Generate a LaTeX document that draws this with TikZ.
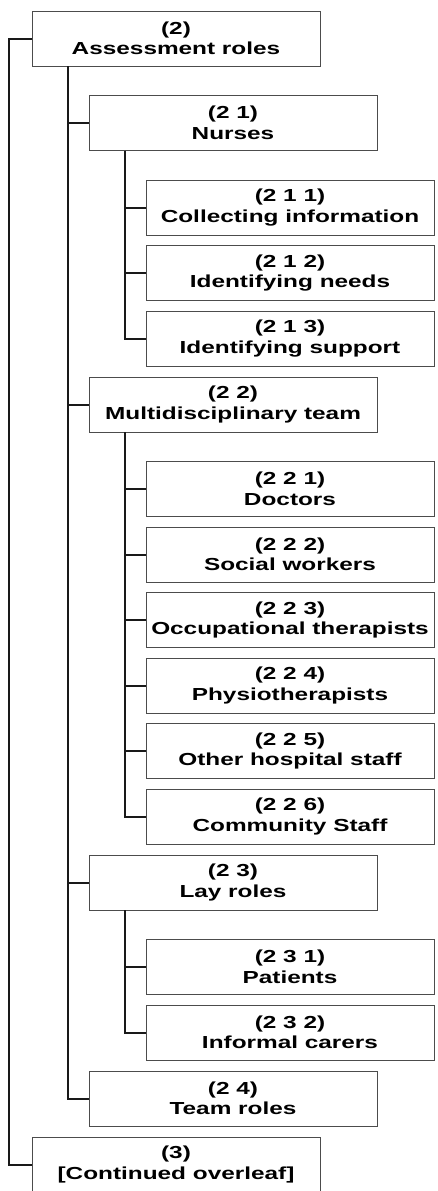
\documentclass[tikz,border=0pt]{standalone}
\usepackage{fontspec}
\newfontfamily\boxfont{Liberation Sans}[FakeStretch=1.40]
\usetikzlibrary{positioning, calc}

\begin{document}
\begin{tikzpicture}[
    x = 1pt, y = 1pt,
    line width = 2pt,
    black!90,
    role/.style={draw, line width = 0.8pt, black!70, text = black,
        minimum width = 288pt, minimum height = 55pt,
        align = center, inner sep = 0pt, outer sep = 0pt,
        font = \boxfont\bfseries\fontsize{17.4}{20.5}\selectfont}
    ]

    % Determines the boundries
    \path [use as bounding box] (0,0) rectangle (438,-1191);

    \def\gap{10.5pt}
    \def\drop{29.5pt}
    \def\back{11pt}
    \def\shift{57pt}
    \def\stem{36}

    % Top level
    \node (A2) [role, anchor = north west] at (32,-11) {(2)\\Assessment roles};

    % Nurses and their tasks
    \node (A21) [role, below right = \drop and \shift of A2.south west] {(2 1)\\Nurses};
    \node (A211) [role, below right = \drop and \shift of A21.south west] {(2 1 1)\\Collecting information};
    \foreach \n/\l/\t [remember=\n as \p (initially 211)] in
        {212/2 1 2/Identifying needs, 213/2 1 3/Identifying support}{
        \node (A\n) [role, below = \gap of A\p] {(\l)\\\t};
    }

    % Multidisciplinary team
    \node (A22) [role, anchor = north west] at ($(A21.west |- A213.south) + (0,-\back)$) {(2 2)\\Multidisciplinary team};
    \node (A221) [role, below right = \drop and \shift of A22.south west] {(2 2 1)\\Doctors};
    \foreach \n/\l/\t [remember=\n as \p (initially 221)] in
        {222/2 2 2/Social workers, 223/2 2 3/Occupational therapists,
         224/2 2 4/Physiotherapists, 225/2 2 5/Other hospital staff,
         226/2 2 6/Community Staff}{
        \node (A\n) [role, below = \gap of A\p] {(\l)\\\t};
    }

    % Lay roles
    \node (A23) [role, anchor = north west] at ($(A21.west |- A226.south) + (0,-\back)$) {(2 3)\\Lay roles};
    \node (A231) [role, below right = \drop and \shift of A23.south west] {(2 3 1)\\Patients};
    \node (A232) [role, below = \gap of A231] {(2 3 2)\\Informal carers};

    \node (A24) [role, anchor = north west] at ($(A21.west |- A232.south) + (0,-\back)$) {(2 4)\\Team roles};
    \node (A3) [role, anchor = north west] at ($(A2.west |- A24.south) + (0,-\back)$) {(3)\\{}[Continued overleaf]};

    % Outlining the tree
    \draw (A2.west) -- ++(-23,0) |- (A3.west);

    \foreach \c in {21,22,23,24}{
        \draw ($(A2.south west) + (\stem,0)$) |- (A\c.west);
    }

    \foreach \p/\c in {21/211, 21/212, 21/213,
                       22/221, 22/222, 22/223, 22/224, 22/225, 22/226,
                       23/231, 23/232}{
        \draw ($(A\p.south west) + (\stem,0)$) |- (A\c.west);
    }

\end{tikzpicture}
\end{document}
